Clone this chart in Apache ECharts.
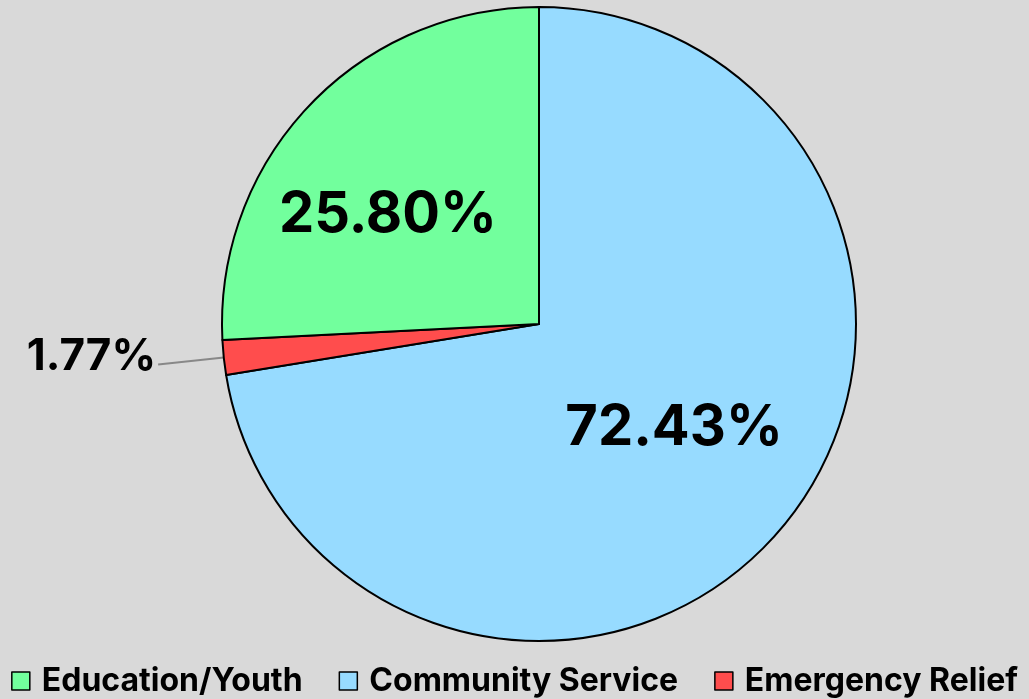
<!DOCTYPE html>
<html><head><meta charset="utf-8">
<script src="https://cdn.jsdelivr.net/npm/echarts@6/dist/echarts.min.js"></script>
<style>html,body{margin:0;padding:0;background:#d9d9d9;}#c{width:1029px;height:699px;}</style>
</head><body><div id="c"></div>
<script>
const categories = ['Community Service', 'Emergency Relief', 'Education/Youth'];
const values = [72.43, 1.77, 25.80];
const colors = ['#97dbff', '#ff4d4d', '#72ff9d'];
const legendOrder = ['Education/Youth', 'Community Service', 'Emergency Relief'];
const labelShift = [[12, 0], [0, -8], [-34, 2]];

const chart = echarts.init(document.getElementById('c'));
chart.setOption({
  backgroundColor: '#d9d9d9',
  animation: false,
  legend: {
    data: legendOrder,
    bottom: -3,
    left: 'center',
    icon: 'rect',
    itemWidth: 18,
    itemHeight: 18,
    itemGap: 36,
    itemStyle: { borderColor: '#000', borderWidth: 1.5 },
    textStyle: { fontFamily: 'Inter', fontWeight: 'bold', fontSize: 32, color: '#000', padding: [0, 0, 0, 7] }
  },
  series: [{
    type: 'pie',
    center: [539, 324],
    radius: [0, 317],
    startAngle: 90,
    clockwise: true,
    avoidLabelOverlap: false,
    itemStyle: { borderColor: '#000', borderWidth: 2 },
    label: {
      position: 'inside',
      fontFamily: 'Inter', fontWeight: 'bold', fontSize: 56, color: '#000',
      formatter: p => p.value.toFixed(2) + '%'
    },
    labelLayout: function (params) {
      const s = labelShift[params.dataIndex];
      return { dx: s[0], dy: s[1] };
    },
    data: categories.map((n, i) => {
      const d = { name: n, value: values[i], itemStyle: { color: colors[i] } };
      if (i === 1) {
        d.label = { position: 'outside', fontSize: 44, distanceToLabelLine: 2 };
        d.labelLine = { show: true, length: 66, length2: 0, lineStyle: { color: '#888', width: 2 } };
      }
      return d;
    })
  }]
});
</script></body></html>
